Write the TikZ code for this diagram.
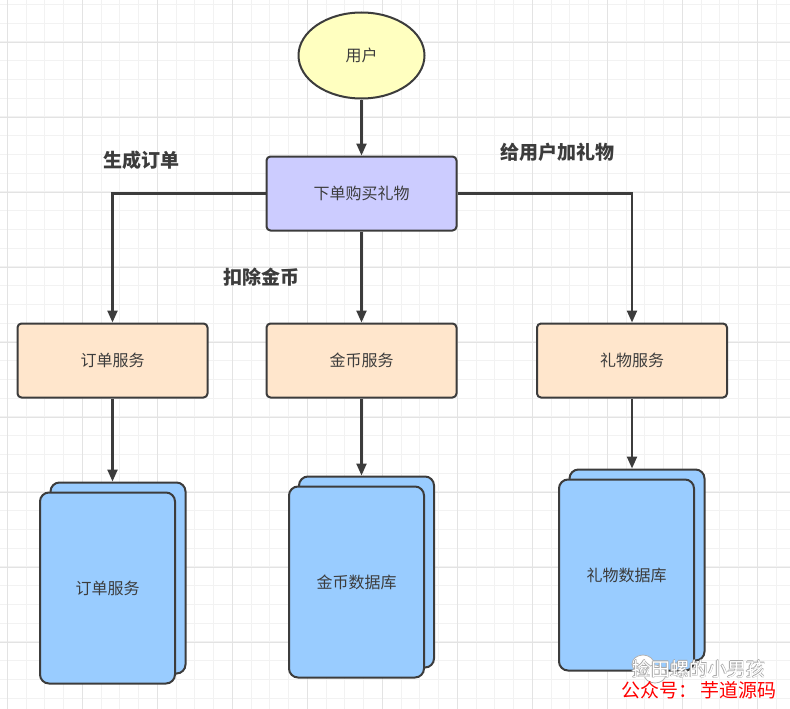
\documentclass[tikz,border=0pt]{standalone}
\usepackage{fontspec}
\setmainfont{Noto Sans CJK SC}
\usetikzlibrary{arrows.meta,shapes.geometric}

\definecolor{usrfill}{HTML}{FFFFC0}
\definecolor{buyfill}{HTML}{CCCCFF}
\definecolor{svcfill}{HTML}{FFE6CC}
\definecolor{dbfill}{HTML}{99CCFF}
\definecolor{edge}{HTML}{3C3C3C}

\begin{document}
\begin{tikzpicture}
  [x=1pt,y=-1pt,
   every node/.style={font=\fontsize{16}{18}\selectfont,text=edge},
   box/.style={draw=edge,line width=2pt,rounded corners=4pt,inner sep=0pt,
     minimum width=190pt,minimum height=74pt},
   svc/.style={box,fill=svcfill},
   dbbox/.style={draw=edge,line width=2pt,rounded corners=9pt,fill=dbfill,
     inner sep=0pt,minimum width=135pt,minimum height=191pt},
   lbl/.style={font=\fontsize{19}{21}\selectfont\bfseries,text=edge},
   link/.style={draw=edge,line width=2.3pt,-{Triangle[length=12pt,width=10pt]}}]

  \useasboundingbox (0,0) rectangle (790,709);
  \fill[white] (0,0) rectangle (790,709);

  % grid
  \foreach \i in {0,...,42}
    \draw[gray!10,line width=0.8pt] (7.3+18.75*\i,0) -- (7.3+18.75*\i,709);
  \foreach \i in {0,...,38}
    \draw[gray!10,line width=0.8pt] (0,4.3+18.75*\i) -- (790,4.3+18.75*\i);
  \foreach \i in {0,...,10}
    \draw[gray!22,line width=0.8pt] (7.3+75*\i,0) -- (7.3+75*\i,709);
  \foreach \i in {0,...,9}
    \draw[gray!22,line width=0.8pt] (0,42.3+75*\i) -- (790,42.3+75*\i);

  \node[ellipse,draw=edge,line width=2pt,fill=usrfill,inner sep=0pt,
    minimum width=126pt,minimum height=86pt] (user) at (361.5,55.5) {用户};
  \node[box,fill=buyfill] (buy) at (361.5,193.5) {下单购买礼物};

  \node[svc] (order) at (112.5,360.5) {订单服务};
  \node[svc] (coin)  at (361.5,360.5) {金币服务};
  \node[svc] (gift)  at (632,360.5)   {礼物服务};

  % stacked stores
  \node[dbbox] (orderdbb) at (118,578) {};
  \node[dbbox] (orderdb)  at (107.5,588) {订单服务};
  \node[dbbox] (coindbb)  at (366.5,572) {};
  \node[dbbox] (coindb)   at (356.5,582) {金币数据库};
  \node[dbbox] (giftdbb)  at (637,565) {};
  \node[dbbox] (giftdb)   at (626.5,575) {礼物数据库};

  \draw[link] (user) -- (buy);
  \draw[link] (buy) -- (coin);
  \draw[link] (buy.west) -| (order.north);
  \draw[link] (buy.east) -| (gift.north);
  \foreach \from/\to in {order/orderdbb,coin/coindbb,gift/giftdbb}
    \draw[link] (\from.south) -- (\from.south |- \to.north);

  \node[lbl] (lorder) at (141,160) {生成订单};
  \node[lbl] (lgift)  at (557,152) {给用户加礼物};
  \node[lbl] (lcoin)  at (261,277) {扣除金币};

  % watermark
  \draw[gray!60,fill=white,line width=0.8pt] (643,664) ellipse (11pt and 9pt);
  \draw[gray!60,fill=white,line width=0.8pt] (655,674) ellipse (11pt and 9pt);
  \foreach \dx/\dy in {-0.7/0,0.7/0,0/-0.7,0/0.7}
    \node[font=\fontsize{19}{21}\selectfont,text=gray!70] at (698.5+\dx,669+\dy) {捡田螺的小男孩};
  \node[font=\fontsize{19}{21}\selectfont,text=white] (wm) at (698.5,669) {捡田螺的小男孩};
  \node[font=\fontsize{19}{21}\selectfont,text=red,anchor=west] (wx) at (618,690) {公众号：\hspace{3pt}芋道源码};
\end{tikzpicture}
\end{document}
